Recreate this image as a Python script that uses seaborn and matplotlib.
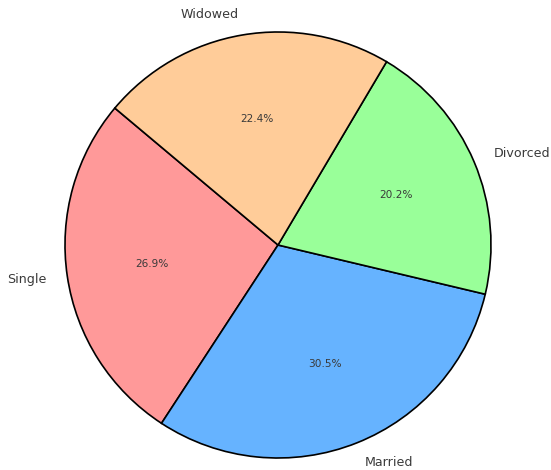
import matplotlib
matplotlib.use("Agg")
import matplotlib.pyplot as plt
import seaborn as sns

# Marital status distribution
categories = ["Single", "Married", "Divorced", "Widowed"]
shares = [26.9, 30.5, 20.2, 22.4]
colors = ["#ff9999", "#66b3ff", "#99ff99", "#ffcc99"]

sns.set_theme(style="white")
palette = sns.color_palette(colors)

fig = plt.figure(figsize=(5.51, 4.70), dpi=100)
ax = fig.add_axes([0, 0, 1, 1])

wedges, texts, autotexts = ax.pie(
    shares,
    labels=categories,
    colors=palette,
    autopct="%1.1f%%",
    startangle=140,
    wedgeprops=dict(edgecolor="black", linewidth=1.2),
    textprops=dict(color="#3a3a3a"),
)
for t in texts:
    t.set_fontsize(9.1)
for t in autotexts:
    t.set_fontsize(7.6)

scale = 213.0
ax.set_xlim(-278 / scale, (551 - 278) / scale)
ax.set_ylim(-(470 - 245) / scale, 245 / scale)
ax.set_aspect("auto")
ax.axis("off")

fig.savefig("out.png", dpi=100)
